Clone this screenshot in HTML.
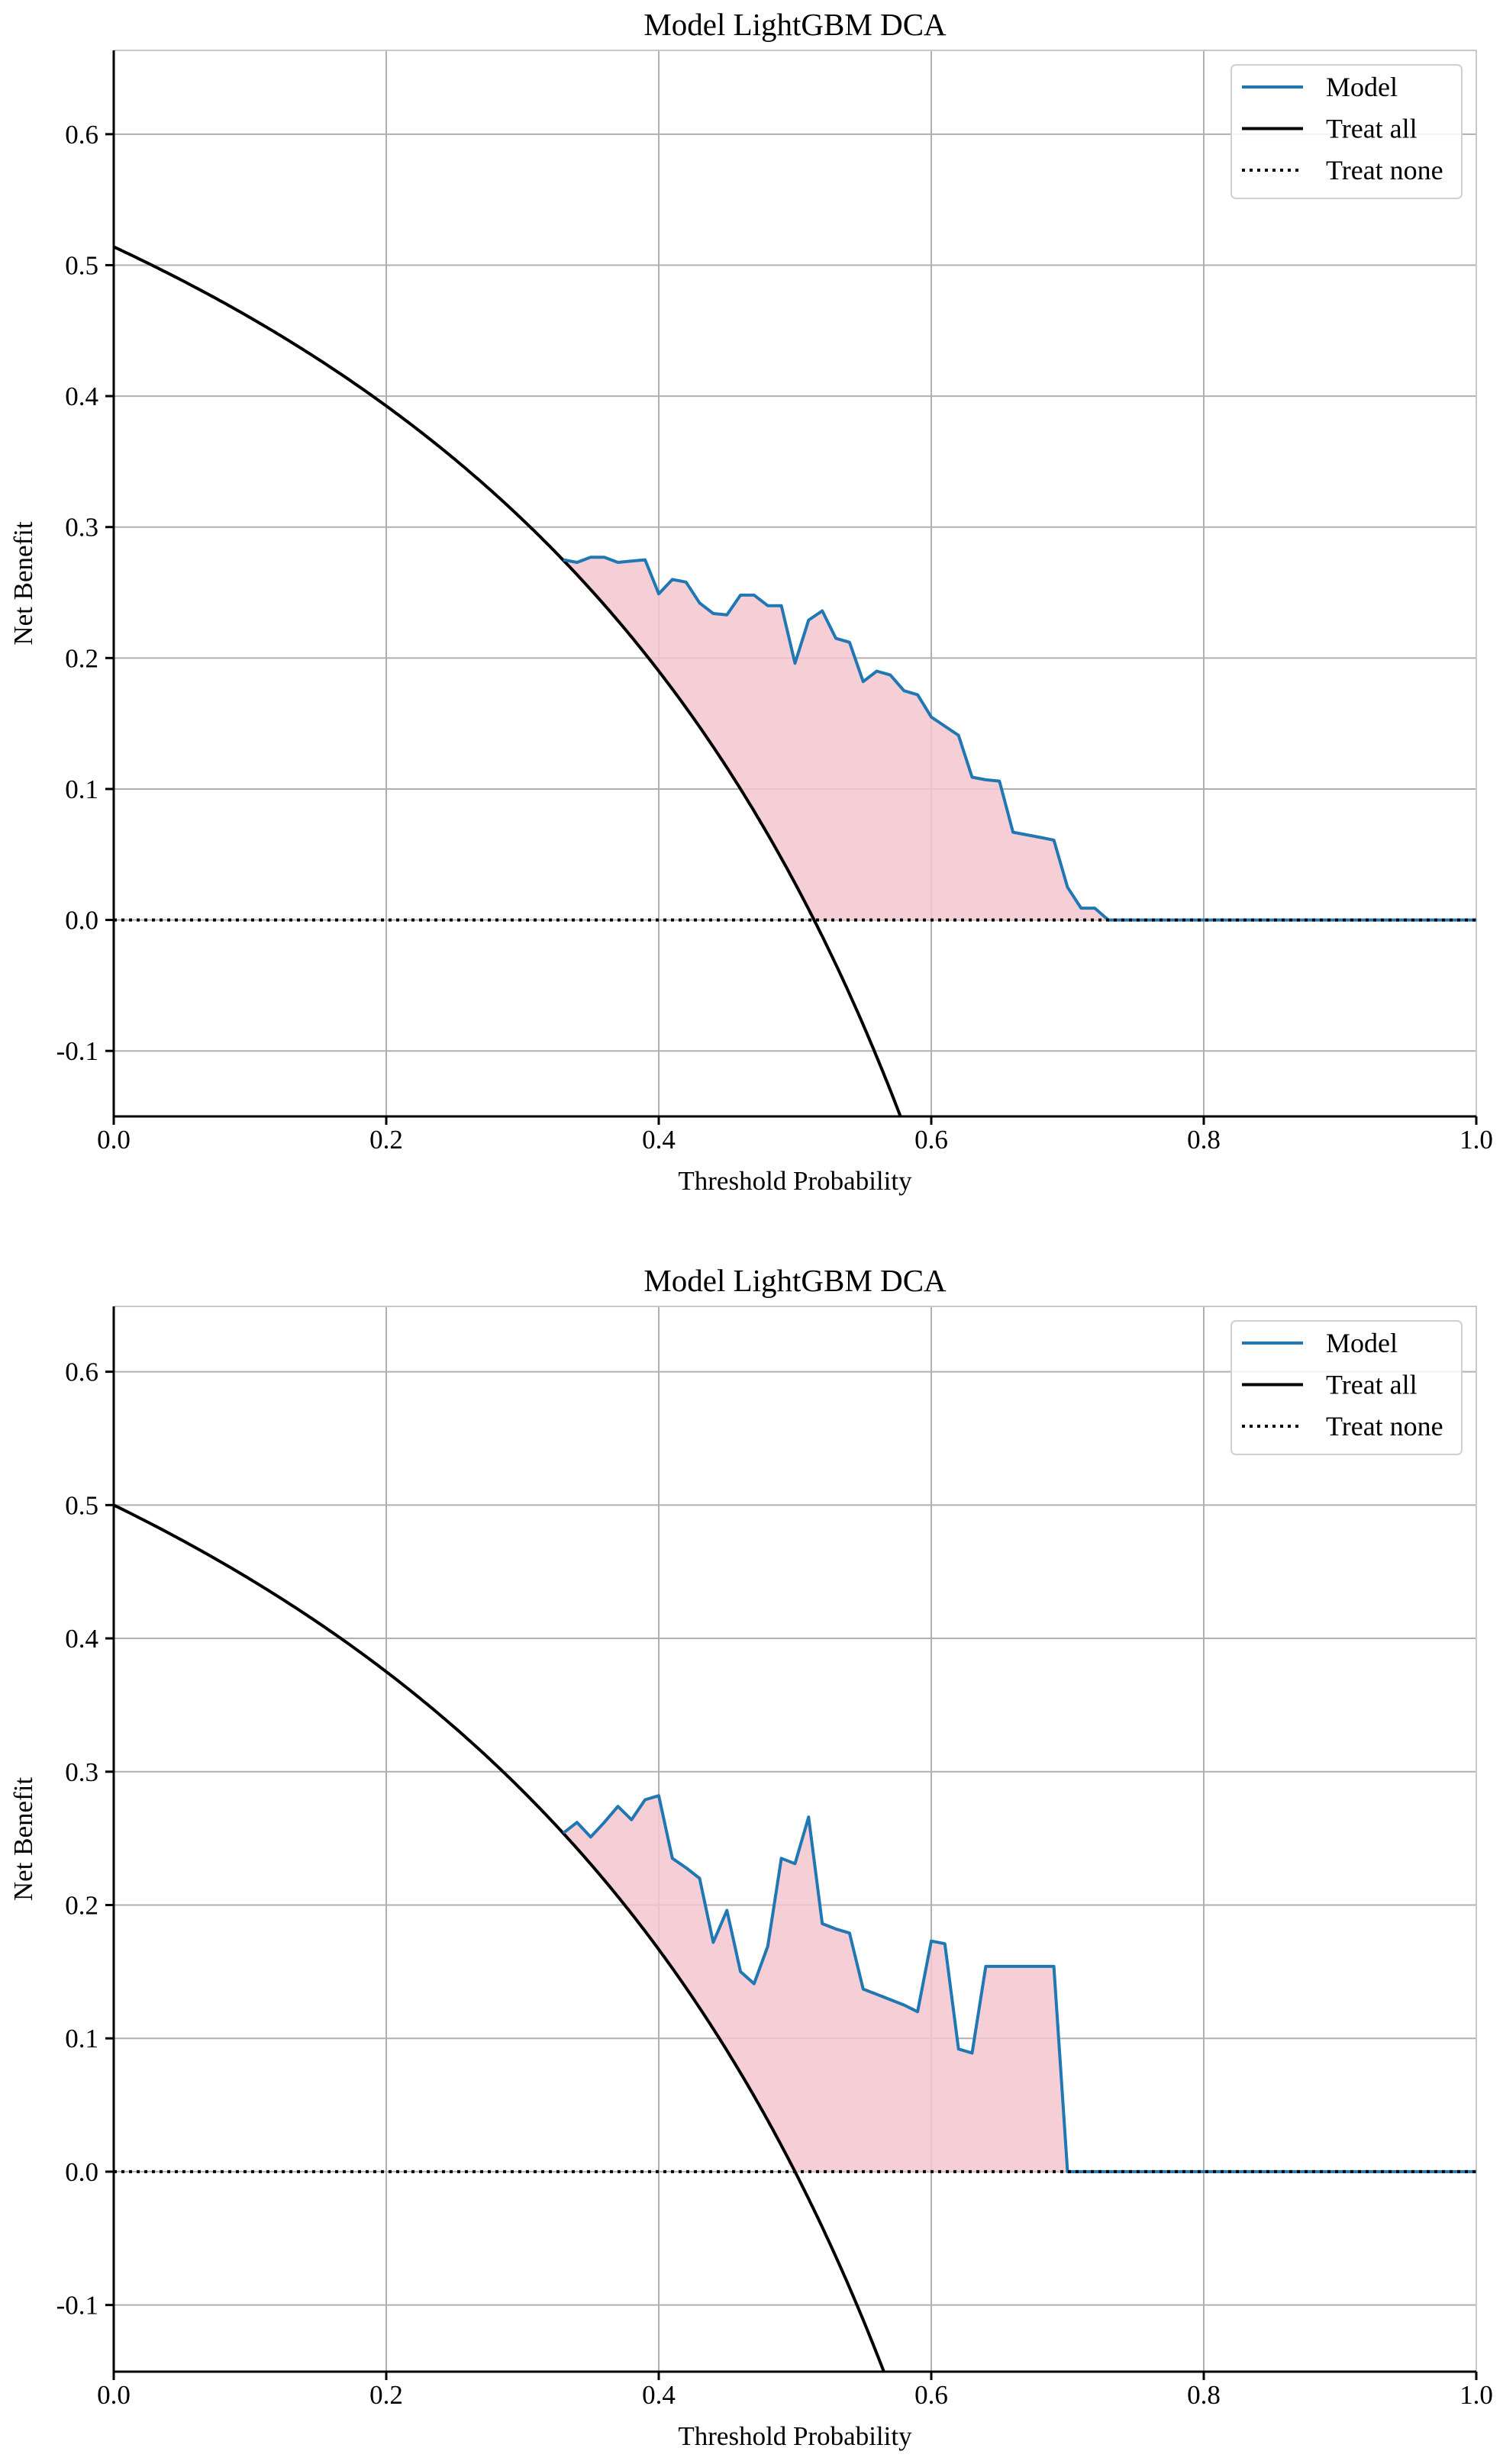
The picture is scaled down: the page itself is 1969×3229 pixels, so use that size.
<!DOCTYPE html>
<html><head><meta charset="utf-8">
<style>
html,body{margin:0;padding:0;background:#fff;}
svg{display:block;font-family:"Liberation Serif",serif;}
</style></head>
<body>
<svg id="svg" width="1969" height="3229" viewBox="0 0 1969 3229" xmlns="http://www.w3.org/2000/svg"></svg>
<script>
const thresholds1 = [0.33,0.34,0.35,0.36,0.37,0.38,0.39,0.40,0.41,0.42,0.43,0.44,0.45,0.46,0.47,0.48,0.49,0.50,0.51,0.52,0.53,0.54,0.55,0.56,0.57,0.58,0.59,0.60,0.61,0.62,0.63,0.64,0.65,0.66,0.67,0.68,0.69,0.70,0.71,0.72,0.73,1.0];
const model1 = [0.275,0.273,0.277,0.277,0.273,0.274,0.275,0.249,0.260,0.258,0.242,0.234,0.233,0.248,0.248,0.240,0.240,0.196,0.229,0.236,0.215,0.212,0.182,0.190,0.187,0.175,0.172,0.155,0.148,0.141,0.109,0.107,0.106,0.067,0.065,0.063,0.061,0.025,0.009,0.009,0.0,0.0];
const prevalence1 = 0.514;
const thresholds2 = [0.33,0.34,0.35,0.36,0.37,0.38,0.39,0.40,0.41,0.42,0.43,0.44,0.45,0.46,0.47,0.48,0.49,0.50,0.51,0.52,0.53,0.54,0.55,0.56,0.57,0.58,0.59,0.60,0.61,0.62,0.63,0.64,0.65,0.66,0.67,0.68,0.69,0.70,1.0];
const model2 = [0.254,0.262,0.251,0.262,0.274,0.264,0.279,0.282,0.235,0.228,0.220,0.172,0.196,0.150,0.141,0.169,0.235,0.231,0.266,0.186,0.182,0.179,0.137,0.133,0.129,0.125,0.120,0.173,0.171,0.092,0.089,0.154,0.154,0.154,0.154,0.154,0.154,0.0,0.0];
const prevalence2 = 0.5;
const xTicks = [0.0,0.2,0.4,0.6,0.8,1.0];
const yTicks = [-0.1,0.0,0.1,0.2,0.3,0.4,0.5,0.6];
const legendLabels = ["Model","Treat all","Treat none"];

const NS="http://www.w3.org/2000/svg";
const svg=document.getElementById('svg');
function mk(tag,attrs,parent){const e=document.createElementNS(NS,tag);for(const k in attrs)e.setAttribute(k,attrs[k]);(parent||svg).appendChild(e);return e;}

function chart(cfg){
  const g=mk('g',{});
  
  
  const L=149,R=1934,T=cfg.top,B=cfg.bottom,ymin=cfg.ymin,ymax=cfg.ymax;
  const X=v=>L+(v-0)*(R-L);
  const Y=v=>B-(v-ymin)/(ymax-ymin)*(B-T);
  // grid
  xTicks.forEach(t=>{const l=mk('line',{x1:X(t),x2:X(t),y1:T,y2:B,stroke:'#b0b0b0','stroke-width':2},g);
    });
  yTicks.forEach(t=>{const l=mk('line',{x1:L,x2:R,y1:Y(t),y2:Y(t),stroke:'#b0b0b0','stroke-width':2},g);
    });
  // frame top/right
  const fr=mk('path',{d:`M${L} ${T}H${R}V${B}`,fill:'none',stroke:'#c8c8c8','stroke-width':2},g);
  
  // treat all curve
  const ta=t=>cfg.prev-(1-cfg.prev)*t/(1-t);
  // fill
  const th=cfg.th, m=cfg.model;
  let top=[],bot=[];
  for(let i=0;i<th.length;i++){ if(th[i]>cfg.fillEnd) break; top.push([X(th[i]),Y(m[i])]); }
  // bottom boundary: max(treatAll,0) from fillEnd back to start
  const t0=th[0], t1=cfg.fillEnd;
  for(let k=200;k>=0;k--){const t=t0+(t1-t0)*k/200;bot.push([X(t),Y(Math.max(ta(t),0))]);}
  const fp=mk('path',{d:'M'+top.concat(bot).map(p=>p[0].toFixed(1)+' '+p[1].toFixed(1)).join('L')+'Z',fill:'#f5c6cf',opacity:0.85},g);
  
  // treat all line
  let pts=[];
  for(let k=0;k<=600;k++){const t=k/600*0.99;const v=ta(t);if(v<ymin){const tc=(cfg.prev-ymin)/(cfg.prev-ymin+1-cfg.prev);pts.push([X(tc),Y(ymin)]);break;}pts.push([X(t),Y(v)]);}
  const tl=mk('path',{d:'M'+pts.map(p=>p[0].toFixed(1)+' '+p[1].toFixed(1)).join('L'),fill:'none',stroke:'#000','stroke-width':4},g);
  
  // model line
  const ml=mk('path',{d:'M'+th.map((t,i)=>X(t).toFixed(1)+' '+Y(m[i]).toFixed(1)).join('L'),fill:'none',stroke:'#1f77b4','stroke-width':4,'stroke-linejoin':'round'},g);
  
  // treat none
  const tn=mk('line',{x1:L,x2:R,y1:Y(0),y2:Y(0),stroke:'#000','stroke-width':4,'stroke-dasharray':'4 6'},g);
  
  // spines
  const sp=mk('path',{d:`M${L} ${T}V${B}H${R}`,fill:'none',stroke:'#000','stroke-width':3},g);
  
  // ticks & labels
  xTicks.forEach(t=>{mk('line',{x1:X(t),x2:X(t),y1:B,y2:B+11,stroke:'#000','stroke-width':3},g);
    const tx=mk('text',{x:X(t),y:B+42,'text-anchor':'middle','font-size':35},g);tx.textContent=t.toFixed(1);
    });
  yTicks.forEach(t=>{mk('line',{x1:L-11,x2:L,y1:Y(t),y2:Y(t),stroke:'#000','stroke-width':3},g);
    const tx=mk('text',{x:L-20,y:Y(t)+12,'text-anchor':'end','font-size':35},g);tx.textContent=t.toFixed(1);
    });
  const ti=mk('text',{x:(L+R)/2,y:T-20,'text-anchor':'middle','font-size':41},g);ti.textContent='Model LightGBM DCA';
  
  const xl=mk('text',{x:(L+R)/2,y:B+96,'text-anchor':'middle','font-size':35},g);xl.textContent='Threshold Probability';
  
  const yc=(T+B)/2;
  const yl=mk('text',{x:42,y:yc,'text-anchor':'middle','font-size':35,transform:`rotate(-90 42 ${yc})`},g);yl.textContent='Net Benefit';
  
  // legend
  const lg=mk('g',{},g);
  
  mk('rect',{x:1613,y:T+19,width:302,height:175,rx:6,fill:'#fff','fill-opacity':0.85,stroke:'#d0d0d0','stroke-width':2},lg);
  const styles=[{stroke:'#1f77b4'},{stroke:'#000'},{stroke:'#000','stroke-dasharray':'4 6'}];
  legendLabels.forEach((lab,i)=>{const yy=T+48+i*54.5;
    const ln=mk('line',Object.assign({x1:1627,x2:1707,y1:yy,y2:yy,'stroke-width':4},styles[i]),lg);
    
    const tx=mk('text',{x:1737,y:yy+12,'font-size':36},lg);tx.textContent=lab;
    });
}
chart({name:'dca-chart-top',top:66,bottom:1463,ymin:-0.150,ymax:0.664,th:thresholds1,model:model1,prev:prevalence1,fillEnd:0.73});
chart({name:'dca-chart-bottom',top:1712,bottom:3108,ymin:-0.150,ymax:0.649,th:thresholds2,model:model2,prev:prevalence2,fillEnd:0.70});
</script>
</body></html>
